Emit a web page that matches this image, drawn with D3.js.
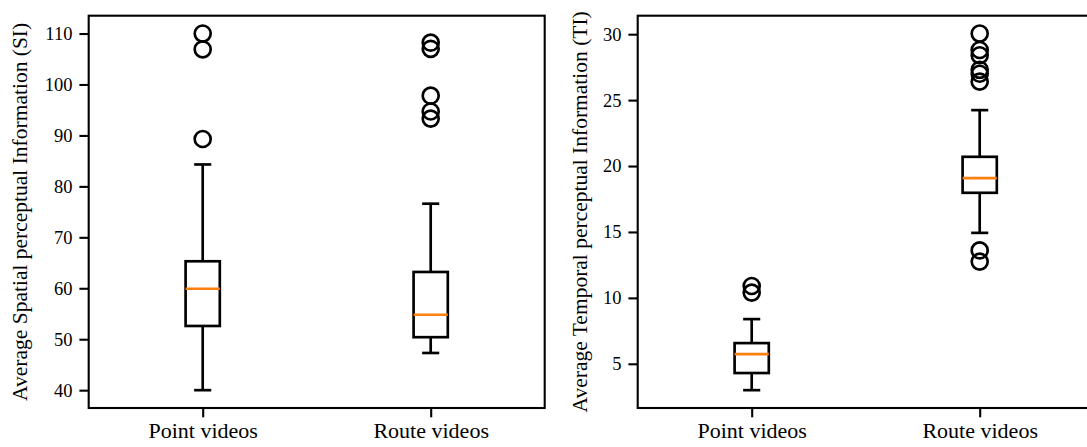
<!DOCTYPE html>
<html>
<head>
<meta charset="utf-8">
<script src="https://cdn.jsdelivr.net/npm/d3@7"></script>
<style>
  body { margin: 0; background: #fff; }
  svg { display: block; font-family: "Liberation Serif", serif; }
</style>
</head>
<body>
<div id="chart"></div>
<script>
// categories and box statistics
const categories = ['Point videos', 'Route videos']

const siQ1 = [52.6, 50.4]
const siMedian = [59.9, 54.8]
const siQ3 = [65.3, 63.2]
const siWhiskerLow = [40.0, 47.3]
const siWhiskerHigh = [84.3, 76.6]
const siOutliers = [[110.0, 106.9, 89.3], [108.2, 107.0, 97.8, 94.7, 93.3]]
const siTicks = [40, 50, 60, 70, 80, 90, 100, 110]

const tiQ1 = [4.30, 17.97]
const tiMedian = [5.74, 19.08]
const tiQ3 = [6.57, 20.70]
const tiWhiskerLow = [3.0, 14.93]
const tiWhiskerHigh = [8.39, 24.24]
const tiOutliers = [[10.9, 10.4], [30.05, 28.8, 28.4, 27.3, 27.0, 26.4, 13.6, 12.75]]
const tiTicks = [5, 10, 15, 20, 25, 30]

const width = 1087
const height = 447
const axTop = 15.7
const axBottom = 408
const axW = 456
const lw = 2.67   // 1pt lines
const tickLen = 9.3

const svg = d3.select('#chart')
  .append('svg')
  .attr('width', width)
  .attr('height', height)

function buildRows(q1, med, q3, lo, hi, out) {
  return categories.map((c, i) => ({
    cat: c, q1: q1[i], med: med[i], q3: q3[i], lo: lo[i], hi: hi[i], out: out[i]
  }))
}

function drawPanel(left, rows, ticks, label, labelX) {
  const g = svg.append('g')

  // y domain like matplotlib: data extent + 5% margin
  const all = rows.flatMap(d => [d.lo, d.hi, ...d.out])
  const mn = d3.min(all), mx = d3.max(all)
  const pad = (mx - mn) * 0.05
  const y = d3.scaleLinear().domain([mn - pad, mx + pad]).range([axBottom, axTop])

  const x = d3.scalePoint()
    .domain(categories)
    .range([left, left + axW])
    .padding(0.5)
  const boxW = x.step() * 0.15
  const capW = boxW / 2

  // y axis
  const yAxis = d3.axisLeft(y).tickValues(ticks).tickSize(tickLen).tickPadding(7)
  const ya = g.append('g').attr('transform', `translate(${left},0)`).call(yAxis)
  ya.select('.domain').remove()
  ya.selectAll('.tick line').attr('stroke', '#000').attr('stroke-width', 2.1)
  ya.selectAll('.tick text')
    .attr('font-family', '"Liberation Serif", serif')
    .attr('font-size', 18.5)
    .attr('fill', '#000')

  // x axis
  const xAxis = d3.axisBottom(x).tickSize(tickLen).tickPadding(5)
  const xa = g.append('g').attr('transform', `translate(0,${axBottom})`).call(xAxis)
  xa.select('.domain').remove()
  xa.selectAll('.tick line').attr('stroke', '#000').attr('stroke-width', 2.1)
  xa.selectAll('.tick text')
    .attr('font-family', '"Liberation Serif", serif')
    .attr('font-size', 22)
    .attr('fill', '#000')

  // boxes
  const b = g.selectAll('.box').data(rows).enter().append('g').attr('class', 'box')

  b.append('line')
    .attr('x1', d => x(d.cat)).attr('x2', d => x(d.cat))
    .attr('y1', d => y(d.lo)).attr('y2', d => y(d.q1))
    .attr('stroke', '#000').attr('stroke-width', lw)
  b.append('line')
    .attr('x1', d => x(d.cat)).attr('x2', d => x(d.cat))
    .attr('y1', d => y(d.q3)).attr('y2', d => y(d.hi))
    .attr('stroke', '#000').attr('stroke-width', lw)
  b.append('line')
    .attr('x1', d => x(d.cat) - capW / 2).attr('x2', d => x(d.cat) + capW / 2)
    .attr('y1', d => y(d.lo)).attr('y2', d => y(d.lo))
    .attr('stroke', '#000').attr('stroke-width', lw)
  b.append('line')
    .attr('x1', d => x(d.cat) - capW / 2).attr('x2', d => x(d.cat) + capW / 2)
    .attr('y1', d => y(d.hi)).attr('y2', d => y(d.hi))
    .attr('stroke', '#000').attr('stroke-width', lw)
  b.append('rect')
    .attr('x', d => x(d.cat) - boxW / 2)
    .attr('width', boxW)
    .attr('y', d => y(d.q3))
    .attr('height', d => y(d.q1) - y(d.q3))
    .style('fill', 'none')
    .style('stroke', '#000')
    .style('stroke-width', lw)
  b.append('line')
    .attr('x1', d => x(d.cat) - boxW / 2).attr('x2', d => x(d.cat) + boxW / 2)
    .attr('y1', d => y(d.med)).attr('y2', d => y(d.med))
    .attr('stroke', '#ff7f0e').attr('stroke-width', lw)

  b.selectAll('circle')
    .data(d => d.out.map(v => ({ cat: d.cat, v: v })))
    .enter()
    .append('circle')
    .attr('cx', d => x(d.cat))
    .attr('cy', d => y(d.v))
    .attr('r', 8)
    .style('fill', 'none')
    .style('stroke', '#000')
    .style('stroke-width', lw)

  // frame
  g.append('rect')
    .attr('x', left).attr('y', axTop)
    .attr('width', axW).attr('height', axBottom - axTop)
    .style('fill', 'none')
    .style('stroke', '#000')
    .style('stroke-width', 2.1)

  // y label
  g.append('text')
    .attr('transform', `translate(${labelX},${(axTop + axBottom) / 2}) rotate(-90)`)
    .attr('text-anchor', 'middle')
    .attr('font-size', 21.5)
    .attr('fill', '#000')
    .text(label)
}

drawPanel(88.7, buildRows(siQ1, siMedian, siQ3, siWhiskerLow, siWhiskerHigh, siOutliers),
  siTicks, 'Average Spatial perceptual Information (SI)', 27)
drawPanel(637.7, buildRows(tiQ1, tiMedian, tiQ3, tiWhiskerLow, tiWhiskerHigh, tiOutliers),
  tiTicks, 'Average Temporal perceptual Information (TI)', 587)
</script>
</body>
</html>
